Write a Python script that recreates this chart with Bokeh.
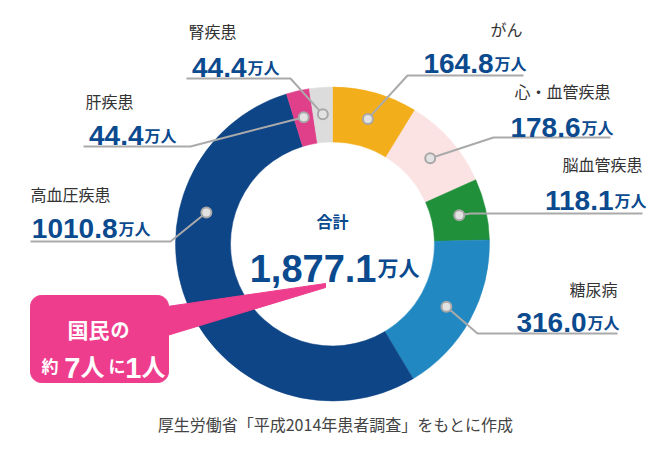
import numpy as np
from bokeh.plotting import figure
from bokeh.models import Range1d, ColumnDataSource
from bokeh.core.properties import value
from bokeh.embed import file_html
from bokeh.resources import INLINE

# ---- data ----
categories = ["がん", "心・血管疾患", "脳血管疾患", "糖尿病", "高血圧疾患", "肝疾患", "腎疾患"]
patients = [164.8, 178.6, 118.1, 316.0, 1010.8, 44.4, 44.4]   # 万人
value_labels = ["164.8", "178.6", "118.1", "316.0", "1010.8", "44.4", "44.4"]
total_label = "1,877.1"
colors = ["#F3AE1B", "#FBE2E3", "#20903A", "#2288C1", "#0E4586", "#E03F8A", "#DCDCDC"]

# ---- layout (reference pixel coordinates; y measured downward) ----
W, H = 663, 441
def Y(y):
    return 449 - y

CX, CY = 332, 243.5
R_IN, R_OUT, R_DOT = 102, 157, 130
# angle overrides for dot anchor (None -> middle of slice), degrees clockwise from top
anchor_deg = [None, None, None, None, 284, None, None]

name_x = [522, 610, 642, 617, 30, 85, 188]
name_y = [28, 90, 163, 288, 193, 100, 30]
name_align = ["right", "right", "right", "right", "left", "left", "left"]
split_x = [493, 580, 613, 586, 117, 143, 246]
base_y = [63, 127, 200, 322, 228, 135, 67]
line_end_x = [523, 610, 642, 617, 30, 83, 186]
line_y = [75, 137, 213, 333, 241, 146, 78]
elbow_x = [407, 493, 470, 477, 170, 190, 290]

NAVY = "#0B4A8E"
JP = value("Noto Sans CJK JP")
NUM = value("Liberation Sans")

p = figure(width=W, height=H, output_backend="svg", toolbar_location=None,
           x_range=Range1d(0, W), y_range=Range1d(449 - H, 449),
           min_border=0, x_axis_location=None, y_axis_location=None,
           background_fill_color="white", border_fill_color="white")
p.outline_line_color = None
p.grid.visible = False

# ---- donut ----
vals = np.array(patients)
total = vals.sum()
cum = np.concatenate([[0], np.cumsum(vals)]) / total
starts = np.pi / 2 - 2 * np.pi * cum[:-1]
ends = np.pi / 2 - 2 * np.pi * cum[1:]
src = ColumnDataSource(dict(start=starts, end=ends, color=colors))
p.annular_wedge(x=CX, y=Y(CY), inner_radius=R_IN, outer_radius=R_OUT,
                start_angle="start", end_angle="end", direction="clock",
                fill_color="color", line_color="color", line_width=0.5, source=src)

# ---- leader lines & dots ----
mid = (cum[:-1] + cum[1:]) / 2 * 360
dx, dy, xs, ys = [], [], [], []
for i in range(len(vals)):
    ang = np.deg2rad(anchor_deg[i] if anchor_deg[i] is not None else mid[i])
    px = CX + R_DOT * np.sin(ang)
    py = CY - R_DOT * np.cos(ang)
    dx.append(px); dy.append(Y(py))
    xs.append([line_end_x[i], elbow_x[i], px])
    ys.append([Y(line_y[i]), Y(line_y[i]), Y(py)])
p.multi_line(xs, ys, line_color="#AAAAAA", line_width=2)
p.scatter(dx, dy, size=10, fill_color="#E2E2E2", line_color="#A8A8A8", line_width=2)

# ---- labels ----
p.text(x=name_x, y=[Y(v) for v in name_y], text=categories, text_align=name_align,
       text_baseline="middle", text_font=JP, text_font_size="16px", text_color="#333333")
p.text(x=split_x, y=[Y(v) for v in base_y], text=value_labels, text_align="right",
       text_baseline="alphabetic", text_font=NUM, text_font_style="bold",
       text_font_size="28px", text_color=NAVY)
p.text(x=[s + 1 for s in split_x], y=[Y(v - 1) for v in base_y], text=["万人"] * len(split_x),
       text_align="left", text_baseline="alphabetic", text_font=JP, text_font_style="bold",
       text_font_size="16px", text_color=NAVY)

# ---- center total ----
p.text(x=[332], y=[Y(220)], text=["合計"], text_align="center", text_baseline="middle",
       text_font=JP, text_font_style="bold", text_font_size="16px", text_color=NAVY)
p.text(x=[376], y=[Y(268)], text=[total_label], text_align="right", text_baseline="alphabetic",
       text_font=NUM, text_font_style="bold", text_font_size="38px", text_color=NAVY)
p.text(x=[377], y=[Y(266)], text=["万人"], text_align="left", text_baseline="alphabetic",
       text_font=JP, text_font_style="bold", text_font_size="21px", text_color=NAVY)

# ---- callout ----
PINK = "#EE3D8D"
p.patch([160, 325, 325, 160], [Y(307), Y(283), Y(287), Y(337)], fill_color=PINK, line_color=PINK)

def rounded_rect(l, t, r, b, rad, n=12):
    pts = []
    for cx_, cy_, a0 in [(r - rad, t + rad, -90), (r - rad, b - rad, 0),
                         (l + rad, b - rad, 90), (l + rad, t + rad, 180)]:
        for a in np.linspace(a0, a0 + 90, n):
            pts.append((cx_ + rad * np.cos(np.deg2rad(a)), cy_ + rad * np.sin(np.deg2rad(a))))
    return [q[0] for q in pts], [Y(q[1]) for q in pts]

bx, by = rounded_rect(30, 295, 168, 382, 11)
p.patch(bx, by, fill_color=PINK, line_color=PINK)

p.text(x=[109], y=[Y(328)], text=["国民"], text_align="right", text_baseline="alphabetic",
       text_font=JP, text_font_style="bold", text_font_size="21px", text_color="white")
p.text(x=[110], y=[Y(328)], text=["の"], text_align="left", text_baseline="alphabetic",
       text_font=JP, text_font_style="bold", text_font_size="19px", text_color="white")
p.text(x=[41, 108], y=[Y(365), Y(365)], text=["約", "に"], text_align="left",
       text_baseline="alphabetic", text_font=JP, text_font_style="bold",
       text_font_size="17px", text_color="white")
p.text(x=[80, 141], y=[Y(367), Y(367)], text=["7", "1"], text_align="right",
       text_baseline="alphabetic", text_font=NUM, text_font_style="bold",
       text_font_size="29px", text_color="white")
p.text(x=[80, 141], y=[Y(365), Y(365)], text=["人", "人"], text_align="left",
       text_baseline="alphabetic", text_font=JP, text_font_style="bold",
       text_font_size="24px", text_color="white")

# ---- source note ----
p.text(x=[335], y=[Y(423)], text=["厚生労働省「平成2014年患者調査」をもとに作成"],
       text_align="center", text_baseline="middle", text_font=JP,
       text_font_size="16px", text_color="#444444")

open("out.html", "w").write(file_html(p, INLINE))
